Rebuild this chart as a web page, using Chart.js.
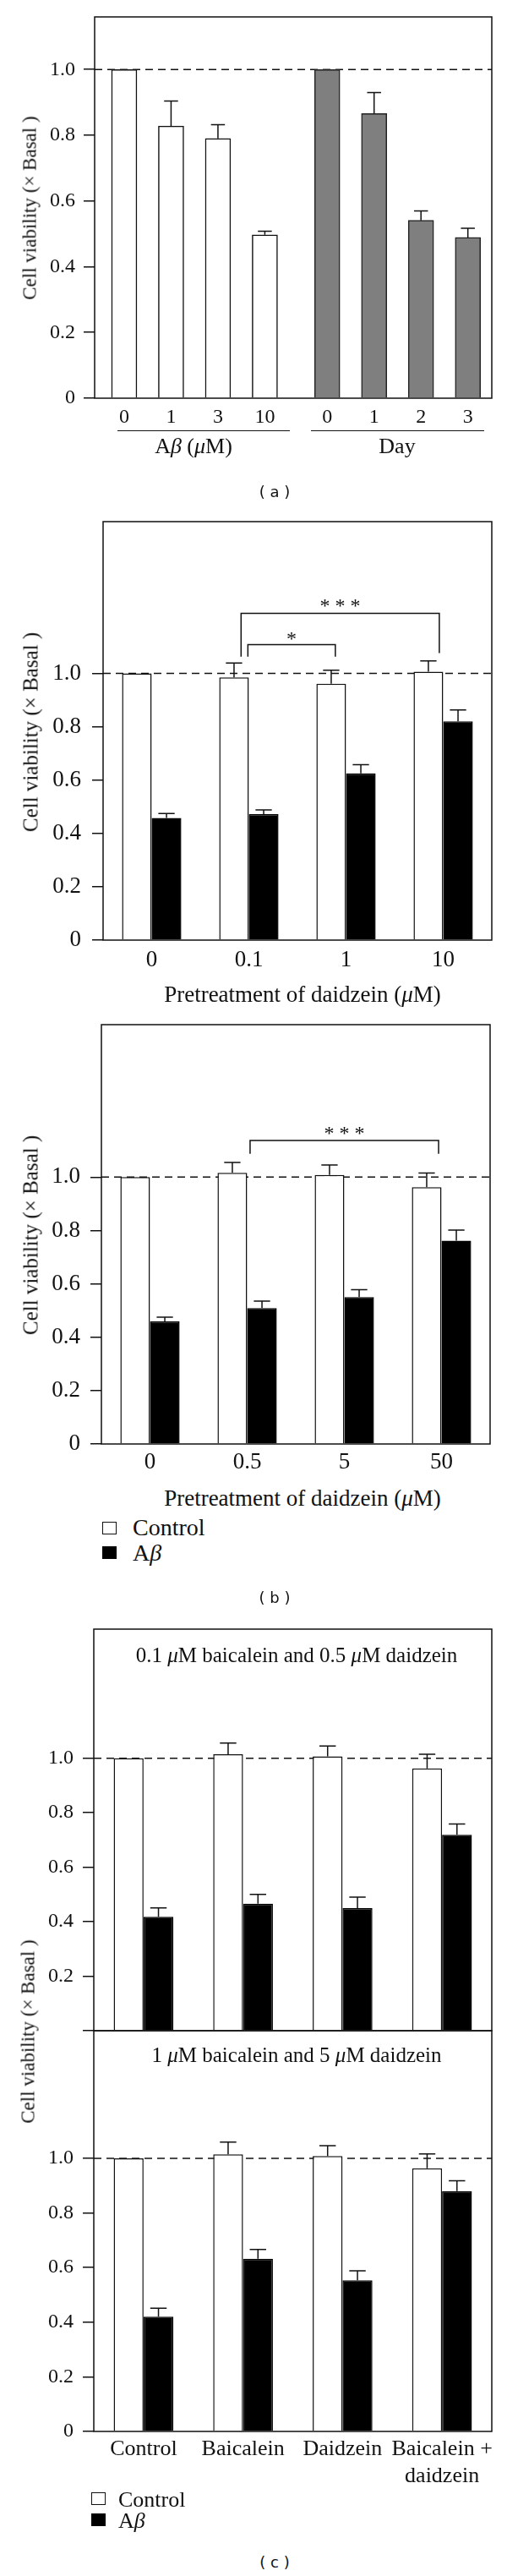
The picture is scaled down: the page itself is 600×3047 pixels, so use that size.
<!DOCTYPE html>
<html>
<head>
<meta charset="utf-8">
<script src="https://cdn.jsdelivr.net/npm/chart.js@4.4.1/dist/chart.umd.min.js"></script>
<style>
  html, body { margin: 0; padding: 0; background: #fff; overflow: hidden; }
  #page { position: relative; width: 600px; height: 3047px; overflow: hidden;
          font-family: "Liberation Serif", "Times New Roman", serif; color: #111; }
  canvas { position: absolute; left: 0; }
  .t { position: absolute; white-space: nowrap; line-height: 1; transform: translate(-50%, -50%); }
  .l { position: absolute; white-space: nowrap; line-height: 1; transform: translate(0, -50%); }
  .yt { position: absolute; white-space: nowrap; line-height: 1; transform: translate(-50%, -50%) rotate(-90deg); }
  .tag { font-family: "DejaVu Sans", sans-serif; font-size: 18px; }
  .rule { position: absolute; height: 0; border-top: 1.5px solid #111; }
  .sw { position: absolute; box-sizing: border-box; border: 1.5px solid #111; background: #fff; }
  .sw.k { background: #000; border-color: #000; }
</style>
</head>
<body>
<div id="page">
  <canvas id="chartA" width="600" height="540" style="top:-20px"></canvas>
  <canvas id="chartB1" width="600" height="583" style="top:577px"></canvas>
  <canvas id="chartB2" width="600" height="584" style="top:1172px"></canvas>
  <canvas id="chartC1" width="600" height="555" style="top:1887px"></canvas>
  <canvas id="chartC2" width="600" height="583" style="top:2362px"></canvas>

  <!-- panel (a) -->
  <div class="yt" style="left:35px; top:246px; font-size:23px">Cell viability (× Basal )</div>
  <div class="rule" style="left:139px; width:204px; top:509px"></div>
  <div class="rule" style="left:368px; width:205px; top:509px"></div>
  <div class="t" style="left:229px; top:528px; font-size:26px">A<i>β</i> (<i>μ</i>M)</div>
  <div class="t" style="left:470px; top:528px; font-size:26px">Day</div>
  <div class="t tag" style="left:325px; top:582px">( a )</div>

  <!-- panel (b) -->
  <div class="yt" style="left:36px; top:866px; font-size:25px">Cell viability (× Basal )</div>
  <div class="t" style="left:358px; top:1176px; font-size:27px">Pretreatment of daidzein (<i>μ</i>M)</div>
  <div class="yt" style="left:36px; top:1461px; font-size:25px">Cell viability (× Basal )</div>
  <div class="t" style="left:358px; top:1772px; font-size:27px">Pretreatment of daidzein (<i>μ</i>M)</div>
  <div class="sw" style="left:121px; top:1800px; width:17px; height:15px"></div>
  <div class="sw k" style="left:121px; top:1829px; width:17px; height:15px"></div>
  <div class="l" style="left:157px; top:1807px; font-size:28px">Control</div>
  <div class="l" style="left:157px; top:1837px; font-size:28px">A<i>β</i></div>
  <div class="t tag" style="left:325px; top:1890px">( b )</div>

  <!-- panel (c) -->
  <div class="yt" style="left:33px; top:2403px; font-size:23px">Cell viability (× Basal )</div>
  <div class="t" style="left:351px; top:1957px; font-size:25px">0.1 <i>μ</i>M baicalein and 0.5 <i>μ</i>M daidzein</div>
  <div class="t" style="left:351px; top:2430px; font-size:25px">1 <i>μ</i>M baicalein and 5 <i>μ</i>M daidzein</div>
  <div class="sw" style="left:108px; top:2948px; width:17px; height:15px"></div>
  <div class="sw k" style="left:108px; top:2973px; width:17px; height:15px"></div>
  <div class="l" style="left:140px; top:2957px; font-size:26px">Control</div>
  <div class="l" style="left:140px; top:2982px; font-size:26px">A<i>β</i></div>
  <div class="t tag" style="left:325px; top:3031px">( c )</div>
</div>

<script>
// ---- data ----
// (a) Aβ dose and time course
const aLabels = ['0', '1', '3', '10', '0', '1', '2', '3'];
const aGroup = [0, 0, 0, 0, 1, 1, 1, 1];          // 0 = Aβ (μM), 1 = Day
const aValues = [1.00, 0.828, 0.790, 0.497, 1.00, 0.866, 0.541, 0.489];
const aErrors = [0, 0.076, 0.042, 0.011, 0, 0.064, 0.029, 0.028];

// (b) pretreatment with daidzein, two dose ranges
const b1Labels = ['0', '0.1', '1', '10'];
const b1Control = [1.00, 0.985, 0.961, 1.006];
const b1ControlErr = [0, 0.054, 0.051, 0.041];
const b1Abeta = [0.458, 0.472, 0.625, 0.820];
const b1AbetaErr = [0.017, 0.016, 0.033, 0.043];

const b2Labels = ['0', '0.5', '5', '50'];
const b2Control = [1.00, 1.016, 1.008, 0.962];
const b2ControlErr = [0, 0.039, 0.037, 0.053];
const b2Abeta = [0.459, 0.509, 0.550, 0.762];
const b2AbetaErr = [0.016, 0.026, 0.028, 0.039];

// (c) baicalein + daidzein combinations
const cLabels = ['Control', 'Baicalein', 'Daidzein', ['Baicalein +', 'daidzein']];
const c1Control = [1.00, 1.015, 1.007, 0.963];
const c1ControlErr = [0, 0.041, 0.038, 0.052];
const c1Abeta = [0.418, 0.466, 0.450, 0.719];
const c1AbetaErr = [0.033, 0.034, 0.040, 0.040];
const c2Control = [1.00, 1.014, 1.008, 0.963];
const c2ControlErr = [0, 0.045, 0.038, 0.053];
const c2Abeta = [0.420, 0.632, 0.553, 0.880];
const c2AbetaErr = [0.031, 0.034, 0.035, 0.038];

const yTicks = [0, 0.2, 0.4, 0.6, 0.8, 1.0];

// significance brackets (x in category units, y in data units)
const b1Brackets = [
  { from: 0.92, to: 2.96, top: 1.225, legL: 1.063, legR: 1.076, text: '* * *', textY: 1.266 },
  { from: 0.99, to: 1.89, top: 1.108, legL: 1.063, legR: 1.063, text: '*', textY: 1.142 }
];
const b2Brackets = [
  { from: 1.03, to: 2.97, top: 1.137, legL: 1.087, legR: 1.087, text: '* * *', textY: 1.175 }
];

const serif = '"Liberation Serif", "Times New Roman", serif';

// dashed basal line, upper error bars, frame and brackets
const panelPlugin = {
  id: 'panel',
  beforeDatasetsDraw(chart) {
    const { ctx, chartArea: a, scales: { y } } = chart;
    const yy = y.getPixelForValue(1);
    ctx.save();
    ctx.strokeStyle = '#111';
    ctx.lineWidth = 1.5;
    ctx.setLineDash([9, 6]);
    ctx.beginPath();
    ctx.moveTo(a.left, yy);
    ctx.lineTo(a.right, yy);
    ctx.stroke();
    ctx.restore();
  },
  afterDatasetsDraw(chart, args, opts) {
    const { ctx, chartArea: a, scales: { x, y } } = chart;
    ctx.save();
    ctx.strokeStyle = '#111';
    ctx.lineWidth = 1.5;
    chart.data.datasets.forEach((ds, i) => {
      chart.getDatasetMeta(i).data.forEach((bar, j) => {
        const e = ds.errors ? ds.errors[j] : 0;
        if (!e) return;
        const top = y.getPixelForValue(y.getValueForPixel(bar.y) + e);
        const cap = bar.width * 0.55 / 2;
        ctx.beginPath();
        ctx.moveTo(bar.x, bar.y);
        ctx.lineTo(bar.x, top);
        ctx.moveTo(bar.x - cap, top);
        ctx.lineTo(bar.x + cap, top);
        ctx.stroke();
      });
    });
    ctx.strokeRect(a.left, a.top, a.width, a.height);
    (opts.brackets || []).forEach(b => {
      const x0 = x.getPixelForValue(b.from);
      const x1 = x.getPixelForValue(b.to);
      const yt = y.getPixelForValue(b.top);
      ctx.beginPath();
      ctx.moveTo(x0, y.getPixelForValue(b.legL));
      ctx.lineTo(x0, yt);
      ctx.lineTo(x1, yt);
      ctx.lineTo(x1, y.getPixelForValue(b.legR));
      ctx.stroke();
      ctx.fillStyle = '#111';
      ctx.font = '24px ' + serif;
      ctx.textAlign = 'center';
      ctx.textBaseline = 'alphabetic';
      ctx.fillText(b.text, (x0 + x1) / 2, y.getPixelForValue(b.textY) + 11);
    });
    ctx.restore();
  }
};

function yScale(o) {
  return {
    min: 0,
    max: o.yMax,
    afterFit: s => { s.width = o.left; },
    afterBuildTicks: s => { s.ticks = yTicks.map(v => ({ value: v })); },
    grid: { drawOnChartArea: false, drawTicks: true, tickLength: 13, color: '#111', lineWidth: 1.5 },
    border: { display: false },
    ticks: {
      padding: o.tickPad,
      color: '#111',
      font: { family: serif, size: o.tickSize },
      callback: v => (v === 0 ? (o.hideZero ? '' : '0') : v.toFixed(1))
    }
  };
}

function baseOptions(o) {
  return {
    responsive: false,
    animation: false,
    devicePixelRatio: 1,
    layout: { padding: { left: 0, top: o.padTop, right: 600 - o.right, bottom: o.padBottom } },
    plugins: { legend: { display: false }, tooltip: { enabled: false }, panel: { brackets: o.brackets || [] } },
    scales: {
      x: {
        afterFit: s => { s.height = o.xHeight; },
        grid: { display: false, drawTicks: false },
        border: { display: false },
        ticks: {
          display: !o.hideX,
          padding: o.xPad,
          color: '#111',
          autoSkip: false,
          maxRotation: 0,
          font: { family: serif, size: o.xSize }
        }
      },
      y: yScale(o)
    }
  };
}

function pairSets(ctrl, ctrlErr, abeta, abetaErr, pct) {
  return [
    { label: 'Control', data: ctrl, errors: ctrlErr, backgroundColor: '#fff', borderColor: '#111',
      borderWidth: 1.5, categoryPercentage: pct, barPercentage: 1 },
    { label: 'Aβ', data: abeta, errors: abetaErr, backgroundColor: '#000', borderColor: '#000',
      borderWidth: 1.5, categoryPercentage: pct, barPercentage: 1 }
  ];
}

function pairChart(id, labels, sets, o) {
  return new Chart(document.getElementById(id), {
    type: 'bar',
    data: { labels: labels, datasets: sets },
    options: baseOptions(o),
    plugins: [panelPlugin]
  });
}

// (a): two groups on one axis, with a wider gap between the groups
const aPos = aGroup.map((g, i) => i + g * 0.33);
const optsA = baseOptions({ left: 112, right: 582, padTop: 40, padBottom: 0, xHeight: 49,
  yMax: 1.16, tickSize: 24, tickPad: 10, xSize: 24, xPad: 8 });
Object.assign(optsA.scales.x, {
  type: 'linear',
  offset: false,
  min: -0.63,
  max: 7.84,
  afterBuildTicks: s => { s.ticks = aPos.map(v => ({ value: v })); }
});
optsA.scales.x.ticks.callback = (v, i) => aLabels[i];
new Chart(document.getElementById('chartA'), {
  type: 'bar',
  data: {
    datasets: [{
      data: aValues.map((v, i) => ({ x: aPos[i], y: v })),
      errors: aErrors,
      backgroundColor: aGroup.map(g => (g === 0 ? '#fff' : '#7f7f7f')),
      borderColor: aGroup.map(g => (g === 0 ? '#111' : '#222')),
      borderWidth: 1.5,
      barThickness: 30
    }]
  },
  options: optsA,
  plugins: [panelPlugin]
});

// (b)
pairChart('chartB1', b1Labels, pairSets(b1Control, b1ControlErr, b1Abeta, b1AbetaErr, 0.61),
  { left: 122, right: 582, padTop: 40, padBottom: 0, xHeight: 48, yMax: 1.569,
    tickSize: 27, tickPad: 13, xSize: 27, xPad: 8, brackets: b1Brackets });
pairChart('chartB2', b2Labels, pairSets(b2Control, b2ControlErr, b2Abeta, b2AbetaErr, 0.61),
  { left: 120, right: 580, padTop: 40, padBottom: 0, xHeight: 48, yMax: 1.571,
    tickSize: 27, tickPad: 12, xSize: 27, xPad: 6, brackets: b2Brackets });

// (c): two stacked panels sharing one frame
pairChart('chartC1', cLabels, pairSets(c1Control, c1ControlErr, c1Abeta, c1AbetaErr, 0.6),
  { left: 111, right: 582, padTop: 40, padBottom: 40, xHeight: 0, yMax: 1.474,
    tickSize: 24, tickPad: 11, xSize: 26, xPad: 6, hideX: true, hideZero: true });
pairChart('chartC2', cLabels, pairSets(c2Control, c2ControlErr, c2Abeta, c2AbetaErr, 0.6),
  { left: 111, right: 582, padTop: 40, padBottom: 0, xHeight: 69, yMax: 1.467,
    tickSize: 24, tickPad: 11, xSize: 26, xPad: 6 });
</script>
</body>
</html>
